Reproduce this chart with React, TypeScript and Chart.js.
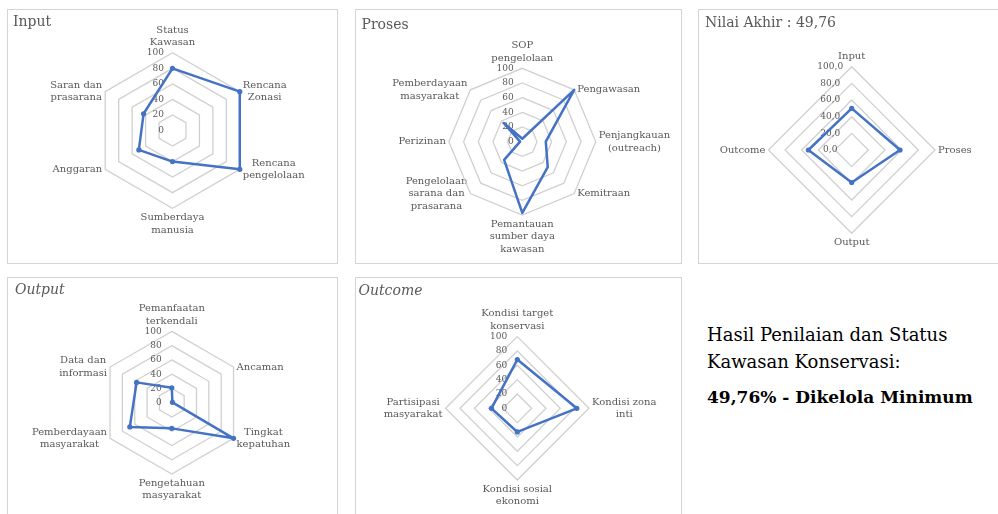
import React, { useEffect, useRef } from 'react';
import { Chart, registerables } from 'chart.js';

Chart.register(...registerables);

// ---------------- data ----------------
const percentTicks = [0, 20, 40, 60, 80, 100];

const inputLabels = [['Status', 'Kawasan'], ['Rencana', 'Zonasi'], ['Rencana', 'pengelolaan'], ['Sumberdaya', 'manusia'], 'Anggaran', ['Saran dan', 'prasarana']];
const inputValues = [80, 100, 100, 40, 50, 43];

const prosesLabels = [['SOP', 'pengelolaan'], 'Pengawasan', ['Penjangkauan', '(outreach)'], 'Kemitraan', ['Pemantauan', 'sumber daya', 'kawasan'], ['Pengelolaan', 'sarana dan', 'prasarana'], 'Perizinan', ['Pemberdayaan', 'masyarakat']];
const prosesValues = [4, 100, 32, 49, 97, 35, 3, 36];

const nilaiLabels = ['Input', 'Proses', 'Output', 'Outcome'];
const nilaiValues = [50, 58, 39, 52];

const outputLabels = [['Pemanfaatan', 'terkendali'], 'Ancaman', ['Tingkat', 'kepatuhan'], ['Pengetahuan', 'masyarakat'], ['Pemberdayaan', 'masyarakat'], ['Data dan', 'informasi']];
const outputValues = [21, 1, 100, 36, 68, 57];

const outcomeLabels = [['Kondisi target', 'konservasi'], ['Kondisi zona', 'inti'], ['Kondisi sosial', 'ekonomi'], ['Partisipasi', 'masyarakat']];
const outcomeValues = [68, 83, 33, 36];

const summaryLines = ['Hasil Penilaian dan Status', 'Kawasan Konservasi:'];
const summaryBold = '49,76% - Dikelola Minimum';

// ---------------- style ----------------
const FONT = '"DejaVu Serif", "Liberation Serif", serif';
const BLUE = '#4472C4';
const TEXT = '#595959';
const GRID = '#d0d0d0';
const BORDER = '#d4d4d4';
const LABEL_SIZE = 10;
const LABEL_LH = 12.5;
const TICK_SIZE = 9;

const intFmt = (v: number) => String(v);
const decFmt = (v: number) => v.toFixed(1).replace('.', ',');

let measureCtx: CanvasRenderingContext2D | null = null;
function measure(text: string, font: string) {
  if (!measureCtx) measureCtx = document.createElement('canvas').getContext('2d');
  measureCtx!.font = font;
  return measureCtx!.measureText(text).width;
}

// pad a tick label with trailing spaces so that, drawn centred on the axis,
// its visible part sits to the left of the axis
function padTick(label: string, mode: string, amt: number) {
  const f = `${TICK_SIZE}px ${FONT}`;
  const wl = measure(label, f);
  const ws = measure(' ', f) || 2.5;
  const wp = mode === 'right' ? wl + 2 * amt : 2 * amt;
  return label + ' '.repeat(Math.max(0, Math.round(wp / ws)));
}

type Cfg = {
  key: string; title: string; italic: boolean;
  left: number; top: number; w: number; h: number;
  cx: number; cy: number; R: number;
  labels: any[]; values: number[]; ticks: number[]; fmt: (v: number) => string;
  tickMode: string; tickAmt: number; points: boolean;
  titleLeft: number; titleTop: number;
};

const charts: Cfg[] = [
  { key: 'input', title: 'Input', italic: false, left: 7, top: 9, w: 331, h: 255, cx: 164.5, cy: 120.5, R: 77.7,
    labels: inputLabels, values: inputValues, ticks: percentTicks, fmt: intFmt, tickMode: 'right', tickAmt: 9,
    points: true, titleLeft: 5, titleTop: 4 },
  { key: 'proses', title: 'Proses', italic: false, left: 355, top: 9, w: 327, h: 255, cx: 166.3, cy: 131.7, R: 73.4,
    labels: prosesLabels, values: prosesValues, ticks: percentTicks, fmt: intFmt, tickMode: 'right', tickAmt: 9,
    points: false, titleLeft: 5.5, titleTop: 6.5 },
  { key: 'nilai', title: 'Nilai Akhir : 49,76', italic: false, left: 698, top: 9, w: 310, h: 255, cx: 152.7, cy: 140, R: 83.3,
    labels: nilaiLabels, values: nilaiValues, ticks: percentTicks, fmt: decFmt, tickMode: 'center', tickAmt: 21.5,
    points: true, titleLeft: 6, titleTop: 5 },
  { key: 'output', title: 'Output', italic: true, left: 7, top: 277, w: 331, h: 250, cx: 163.8, cy: 124.7, R: 71.3,
    labels: outputLabels, values: outputValues, ticks: percentTicks, fmt: intFmt, tickMode: 'right', tickAmt: 10,
    points: true, titleLeft: 7, titleTop: 4 },
  { key: 'outcome', title: 'Outcome', italic: true, left: 355, top: 277, w: 327, h: 250, cx: 161.3, cy: 130.3, R: 71.7,
    labels: outcomeLabels, values: outcomeValues, ticks: percentTicks, fmt: intFmt, tickMode: 'right', tickAmt: 10,
    points: true, titleLeft: 2.5, titleTop: 5 },
];

// Excel-like placement of the category labels: centred lines, vertically centred on side vertices
function placeLabels(scale: any) {
  const items = scale._pointLabelItems;
  if (!items) return;
  const ctx: CanvasRenderingContext2D = scale.ctx;
  const labels = scale._pointLabels;
  const R = scale.drawingArea;
  ctx.save();
  ctx.font = `${LABEL_SIZE}px ${FONT}`;
  for (let i = 0; i < items.length; i++) {
    const lab = labels[i];
    const lines: string[] = Array.isArray(lab) ? lab : [lab];
    const w = Math.max(...lines.map((l) => ctx.measureText(l).width));
    const h = lines.length * LABEL_LH;
    let deg = (scale.getIndexAngle(i) * 180) / Math.PI % 360;
    if (deg < 0) deg += 360;
    let x: number, yMid: number;
    if (deg < 1 || deg > 359) {
      const p = scale.getPointPosition(i, R + 4);
      x = p.x; yMid = p.y - h / 2;
    } else if (Math.abs(deg - 180) < 1) {
      const p = scale.getPointPosition(i, R + 3);
      x = p.x; yMid = p.y + h / 2;
    } else {
      const p = scale.getPointPosition(i, R);
      yMid = p.y;
      x = deg < 180 ? p.x + 3 + w / 2 : p.x - 3 - w / 2;
    }
    const it = items[i];
    it.x = x;
    it.y = yMid - h / 2;
    it.textAlign = 'center';
    it.left = x - w / 2; it.right = x + w / 2; it.top = it.y; it.bottom = it.y + h;
    it.visible = true;
  }
  ctx.restore();
}

function RadarPanel({ cfg }: { cfg: Cfg }) {
  const ref = useRef<HTMLCanvasElement>(null);
  const cw = cfg.w - 2;
  const ch = cfg.h - 2;

  useEffect(() => {
    if (!ref.current) return;
    const chart = new Chart(ref.current, {
      type: 'radar',
      data: {
        labels: cfg.labels,
        datasets: [{
          data: cfg.values,
          borderColor: BLUE,
          backgroundColor: BLUE,
          borderWidth: 2.5,
          borderJoinStyle: 'round',
          pointRadius: cfg.points ? 2.6 : 0,
          pointBackgroundColor: BLUE,
          pointBorderColor: BLUE,
          pointBorderWidth: 0,
          fill: false,
          tension: 0,
          clip: false,
        } as any],
      },
      options: {
        responsive: false,
        animation: false,
        events: [],
        layout: { padding: { left: cfg.titleLeft, top: 0, right: 0, bottom: 0 } },
        plugins: {
          legend: { display: false },
          tooltip: { enabled: false },
          title: {
            display: true,
            text: cfg.title,
            align: 'start',
            color: TEXT,
            font: { family: FONT, size: 14, weight: 'normal', style: cfg.italic ? 'italic' : 'normal', lineHeight: 1.2 },
            padding: { top: cfg.titleTop, bottom: 2 },
          },
        },
        scales: {
          r: {
            min: 0,
            max: 100,
            beginAtZero: true,
            angleLines: { display: false },
            grid: { color: GRID, lineWidth: 1.3 },
            ticks: {
              stepSize: 20,
              color: TEXT,
              font: { family: FONT, size: TICK_SIZE },
              showLabelBackdrop: false,
              callback: (v: any, idx: number) => (idx === 0 ? '' : padTick(cfg.fmt(Number(v)), cfg.tickMode, cfg.tickAmt)),
            },
            pointLabels: {
              display: true,
              color: TEXT,
              font: { family: FONT, size: LABEL_SIZE, lineHeight: LABEL_LH / LABEL_SIZE },
              padding: 3,
            },
            afterSetDimensions: (scale: any) => {
              scale.__saved = { l: scale.left, r: scale.right, t: scale.top, b: scale.bottom };
              scale.left = -100000; scale.right = 100000; scale.top = -100000; scale.bottom = 100000;
              scale.xCenter = cfg.cx; scale.yCenter = cfg.cy; scale.drawingArea = cfg.R;
            },
            afterBuildTicks: (scale: any) => {
              // leading placeholder so that the "0" label at the centre is drawn as well
              scale.ticks = [{ value: cfg.ticks[0] }, ...cfg.ticks.map((v) => ({ value: v }))];
            },
            afterFit: (scale: any) => {
              const s = scale.__saved;
              if (s) { scale.left = s.l; scale.right = s.r; scale.top = s.t; scale.bottom = s.b; }
              scale.xCenter = cfg.cx; scale.yCenter = cfg.cy; scale.drawingArea = cfg.R;
              placeLabels(scale);
            },
          } as any,
        },
      } as any,
    });
    return () => chart.destroy();
  }, []);

  return (
    <div style={{ position: 'absolute', left: cfg.left, top: cfg.top, width: cfg.w, height: cfg.h, border: `1px solid ${BORDER}`, boxSizing: 'border-box', background: '#fff' }}>
      <canvas ref={ref} width={cw} height={ch} style={{ position: 'absolute', left: 0, top: 0, width: cw, height: ch }} />
    </div>
  );
}

export default function App() {
  return (
    <div style={{ position: 'absolute', left: 0, top: 0, width: 998, height: 514, overflow: 'hidden', background: '#fff' }}>
      {charts.map((c) => <RadarPanel key={c.key} cfg={c} />)}
      <div style={{ position: 'absolute', left: 707, top: 324, fontFamily: FONT, fontSize: 18, lineHeight: '22px', color: '#000', whiteSpace: 'nowrap' }}>{summaryLines[0]}</div>
      <div style={{ position: 'absolute', left: 707, top: 351, fontFamily: FONT, fontSize: 18, lineHeight: '22px', color: '#000', whiteSpace: 'nowrap' }}>{summaryLines[1]}</div>
      <div style={{ position: 'absolute', left: 707, top: 386, fontFamily: FONT, fontSize: 17, fontWeight: 'bold', lineHeight: '22px', color: '#000', whiteSpace: 'nowrap' }}>{summaryBold}</div>
    </div>
  );
}
